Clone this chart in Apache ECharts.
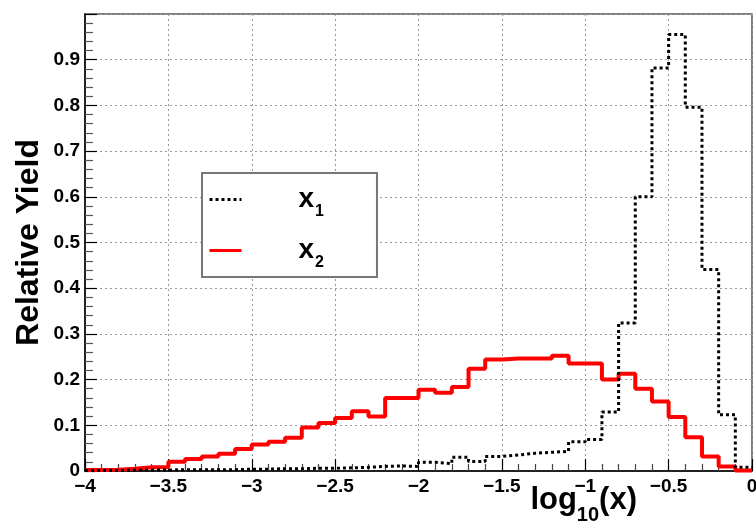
<!DOCTYPE html>
<html>
<head>
<meta charset="utf-8">
<script src="https://cdn.jsdelivr.net/npm/echarts@6/dist/echarts.min.js"></script>
<style>
html,body{margin:0;padding:0;background:#fff;}
#chart{width:756px;height:528px;}
</style>
</head>
<body>
<div id="chart"></div>
<script>
// Bin edges of log10(x) (41 edges -> 40 bins)
const binEdges = [-4.0,-3.9,-3.8,-3.7,-3.6,-3.5,-3.4,-3.3,-3.2,-3.1,
                  -3.0,-2.9,-2.8,-2.7,-2.6,-2.5,-2.4,-2.3,-2.2,-2.1,
                  -2.0,-1.9,-1.8,-1.7,-1.6,-1.5,-1.4,-1.3,-1.2,-1.1,
                  -1.0,-0.9,-0.8,-0.7,-0.6,-0.5,-0.4,-0.3,-0.2,-0.1,0.0];

const seriesNames = ['x1', 'x2'];

// Relative yield per bin
const x1Values = [0.001,0.001,0.002,0.002,0.002,0.003,0.003,0.003,0.003,0.004,
                  0.004,0.005,0.005,0.006,0.006,0.007,0.008,0.010,0.011,0.010,
                  0.019,0.016,0.030,0.021,0.032,0.035,0.039,0.041,0.043,0.064,
                  0.069,0.129,0.324,0.600,0.882,0.955,0.796,0.441,0.123,0.008];

const x2Values = [0.002,0.003,0.005,0.008,0.009,0.020,0.026,0.032,0.038,0.048,
                  0.058,0.064,0.073,0.095,0.105,0.116,0.131,0.119,0.160,0.160,
                  0.178,0.171,0.184,0.224,0.244,0.246,0.246,0.246,0.252,0.235,
                  0.235,0.200,0.213,0.180,0.152,0.118,0.074,0.032,0.010,0.001];

const FONT = 'Liberation Sans';

function stepData(vals) {
  return binEdges.map((e, i) => [e, i < vals.length ? vals[i] : vals[vals.length - 1]]);
}

const chart = echarts.init(document.getElementById('chart'), null, {renderer: 'canvas'});

chart.setOption({
  animation: false,
  backgroundColor: '#fff',
  grid: {
    left: 85, right: 4, top: 14, bottom: 57,
    outerBoundsMode: 'none',
    containLabel: false,
    show: true, borderColor: '#555', borderWidth: 1.5, backgroundColor: 'transparent'
  },
  legend: {
    orient: 'vertical',
    left: 202, top: 173,
    padding: [6, 53, 6, 6],
    itemGap: 10,
    itemWidth: 32, itemHeight: 14,
    borderColor: '#777', borderWidth: 2, backgroundColor: '#fff',
    itemStyle: {opacity: 0},
    lineStyle: {width: 3},
    data: seriesNames,
    formatter: function (name) { return '{m|x}{s|' + name.slice(1) + '}'; },
    textStyle: {
      color: '#000',
      rich: {
        m: {fontFamily: FONT, fontWeight: 'bold', fontSize: 28, lineHeight: 30, padding: [0, 0, 0, 52], color: '#000'},
        s: {fontFamily: FONT, fontWeight: 'bold', fontSize: 16, lineHeight: 16, padding: [25, 0, 0, 1], color: '#000'}
      }
    }
  },
  xAxis: {
    type: 'value',
    min: -4, max: 0, interval: 0.5,
    name: '{n|log}{s|10}{n|(x)}',
    nameLocation: 'end',
    nameGap: -115,
    nameMoveOverlap: false,
    nameTextStyle: {
      align: 'right', verticalAlign: 'top', padding: [12, 0, 0, 0],
      rich: {
        n: {fontFamily: FONT, fontWeight: 'bold', fontSize: 31, lineHeight: 34, color: '#000'},
        s: {fontFamily: FONT, fontWeight: 'bold', fontSize: 20, lineHeight: 20, padding: [30, 0, 0, 0], color: '#000'}
      }
    },
    axisLine: {show: true, onZero: false, lineStyle: {color: '#000', width: 1.5}},
    axisTick: {show: true, inside: true, length: 12, lineStyle: {color: '#000', width: 1.2}},
    minorTick: {show: true, splitNumber: 5, length: 7, lineStyle: {color: '#444', width: 1.2}},
    axisLabel: {
      margin: 6,
      fontFamily: FONT, fontWeight: 'bold', fontSize: 19, color: '#000',
      formatter: function (v) { return v === 0 ? '0' : String(v).replace('-', '\u2212'); }
    },
    splitLine: {show: true, lineStyle: {color: '#999', type: [2, 3], width: 1}},
    minorSplitLine: {show: false}
  },
  yAxis: {
    type: 'value',
    min: 0, max: 1, interval: 0.1,
    name: 'Relative Yield',
    nameLocation: 'middle',
    nameGap: 40,
    nameMoveOverlap: false,
    nameTextStyle: {fontFamily: FONT, fontWeight: 'bold', fontSize: 32, color: '#000'},
    axisLine: {show: true, onZero: false, lineStyle: {color: '#000', width: 1.5}},
    axisTick: {show: true, inside: true, length: 12, lineStyle: {color: '#000', width: 1.2}},
    minorTick: {show: true, splitNumber: 5, length: 8, lineStyle: {color: '#555', width: 1.2}},
    axisLabel: {
      margin: 5,
      fontFamily: FONT, fontWeight: 'bold', fontSize: 19, color: '#000',
      formatter: function (v) { return v >= 0.999 ? '' : String(+v.toFixed(1)); }
    },
    splitLine: {show: true, lineStyle: {color: '#999', type: [2, 3], width: 1}}
  },
  series: [
    {
      name: seriesNames[0],
      type: 'line',
      step: 'end',
      symbol: 'none',
      z: 4,
      clip: true,
      data: stepData(x1Values),
      lineStyle: {color: '#000', width: 3, type: [3, 3]},
      itemStyle: {color: '#000'}
    },
    {
      name: seriesNames[1],
      type: 'line',
      step: 'end',
      symbol: 'none',
      z: 3,
      clip: true,
      data: stepData(x2Values),
      lineStyle: {color: '#ff0000', width: 4},
      itemStyle: {color: '#ff0000'}
    }
  ]
});
</script>
</body>
</html>
